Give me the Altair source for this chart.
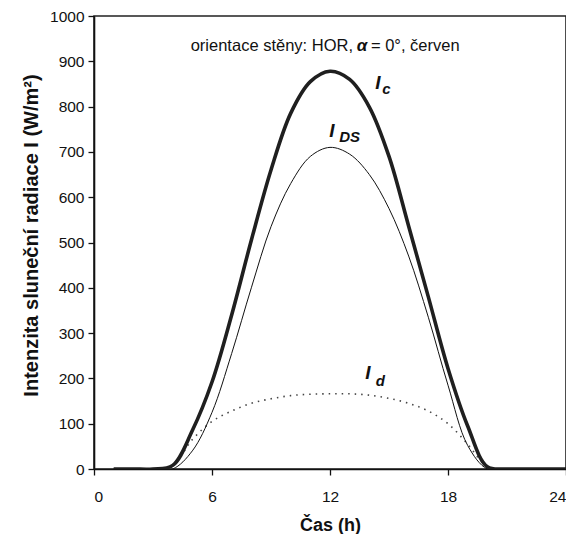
import altair as alt
import pandas as pd

# ---- data ----
hours = list(range(1, 25))
i_c = [0, 0, 0, 8, 85, 192, 340, 505, 660, 785, 855, 878, 860, 799, 690, 536, 380, 222, 95, 5, 0, 0, 0, 0]
i_ds = [0, 0, 0, 0, 40, 125, 255, 400, 535, 630, 690, 710, 695, 650, 575, 470, 335, 185, 52, 0, 0, 0, 0, 0]
i_d = [0, 0, 0, 8, 65, 105, 128, 145, 155, 162, 165, 166, 166, 163, 156, 145, 128, 100, 55, 5, 0, 0, 0, 0]

x_ticks = [0, 6, 12, 18, 24]
y_ticks = [0, 100, 200, 300, 400, 500, 600, 700, 800, 900, 1000]

title_left = "orientace stěny: HOR,"
title_alpha = "α"
title_right = "= 0°, červen"

# curve labels: text, x (h), y (W/m2), font size
labels_text = ["I", "c", "I", "DS", "I", "d"]
labels_x = [14.44, 14.87, 12.10, 13.00, 13.93, 14.56]
labels_y = [852, 838, 747, 732, 211, 195]
labels_size = [19, 15, 19, 15, 19, 15]

df = pd.DataFrame({"h": hours * 3,
                   "v": i_c + i_ds + i_d,
                   "s": ["Ic"] * 24 + ["IDS"] * 24 + ["Id"] * 24})

SANS = "Liberation Sans, Arial, sans-serif"

xs = alt.Scale(domain=[0, 24], nice=False)
ys = alt.Scale(domain=[0, 1000], nice=False)

base = alt.Chart(df)


def line(series, width, dash=None, color="#111"):
    kw = dict(strokeWidth=width, color=color, interpolate="catmull-rom", clip=True)
    if dash:
        kw["strokeDash"] = dash
    return base.transform_filter(alt.datum.s == series).mark_line(**kw).encode(
        x=alt.X("h:Q", scale=xs,
                axis=alt.Axis(values=x_ticks, title="Čas (h)", grid=False,
                              titleFontSize=18)),
        y=alt.Y("v:Q", scale=ys,
                axis=alt.Axis(values=y_ticks, format="d",
                              title="Intenzita sluneční radiace I  (W/m²)",
                              titleFontSize=20, titleY=219, grid=False)),
        order="h:Q",
    )


l_d = line("Id", 1.6, [1.5, 5], "#444")
l_ds = line("IDS", 1.0, None, "#111")
l_c = line("Ic", 3.6, None, "#1f1f1f")

lab_df = pd.DataFrame({"t": labels_text, "x": labels_x, "y": labels_y, "fs": labels_size})
labels = alt.Chart(lab_df).mark_text(
    font=SANS, fontStyle="italic", fontWeight="bold", color="#111",
    align="center", baseline="middle"
).encode(
    x=alt.X("x:Q", scale=xs), y=alt.Y("y:Q", scale=ys),
    text="t:N", size=alt.Size("fs:Q", scale=None, legend=None)
)

tdf = pd.DataFrame({"t": [title_left, title_alpha, title_right],
                    "x": [13.17, 13.63, 14.08], "y": [934, 934, 934]})
t_left = alt.Chart(tdf.iloc[[0]]).mark_text(
    font=SANS, fontSize=16.5, align="right", baseline="middle", color="#111"
).encode(x=alt.X("x:Q", scale=xs), y=alt.Y("y:Q", scale=ys), text="t:N")
t_alpha = alt.Chart(tdf.iloc[[1]]).mark_text(
    font=SANS, fontSize=17, fontWeight="bold", fontStyle="italic",
    align="center", baseline="middle", color="#111"
).encode(x=alt.X("x:Q", scale=xs), y=alt.Y("y:Q", scale=ys), text="t:N")
t_right = alt.Chart(tdf.iloc[[2]]).mark_text(
    font=SANS, fontSize=16.5, align="left", baseline="middle", color="#111"
).encode(x=alt.X("x:Q", scale=xs), y=alt.Y("y:Q", scale=ys), text="t:N")

chart = alt.layer(l_d, l_ds, l_c, labels, t_left, t_alpha, t_right).properties(
    width=472, height=453,
    autosize=alt.AutoSizeParams(type="none"),
    padding={"left": 86, "top": 8, "right": 0, "bottom": 65},
).configure_view(
    stroke="#222", strokeWidth=1.6
).configure_axis(
    domainColor="#111", domainWidth=1.6, tickColor="#111", tickWidth=1.3,
    tickSize=6, labelFont=SANS, labelFontSize=15.5, labelColor="#111",
    titleFont=SANS, titleFontWeight="bold", titleColor="#111",
).configure_axisX(
    labelPadding=14, titlePadding=12
).configure_axisY(
    labelPadding=4, titlePadding=8
)

chart.save("out.html", embed_options={"renderer": "svg", "actions": False})
